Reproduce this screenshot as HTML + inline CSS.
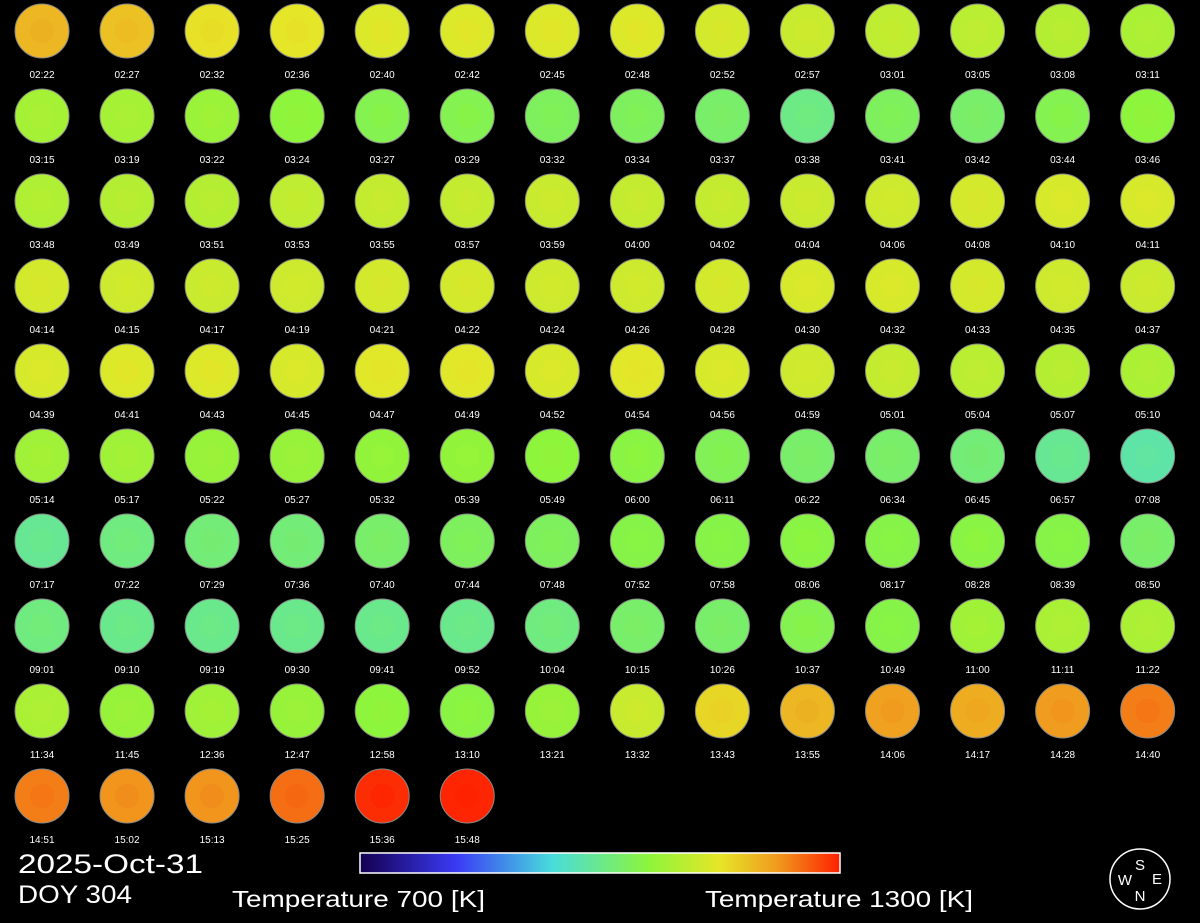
<!DOCTYPE html>
<html><head><meta charset="utf-8"><style>
html,body{margin:0;padding:0;background:#000;}
body{width:1200px;height:923px;overflow:hidden;position:relative;font-family:"Liberation Sans",sans-serif;color:#fff;}
svg{position:absolute;left:0;top:0;}
</style></head><body>
<svg id="chart" width="1200" height="923" viewBox="0 0 1200 923">
<defs>
<linearGradient id="cbar" x1="0" x2="1" y1="0" y2="0">
<stop offset="0" stop-color="#140050"/>
<stop offset="0.2" stop-color="#3a3af5"/>
<stop offset="0.4" stop-color="#48dcdc"/>
<stop offset="0.6" stop-color="#8cf53c"/>
<stop offset="0.75" stop-color="#e6e628"/>
<stop offset="0.87" stop-color="#f09a1e"/>
<stop offset="1" stop-color="#ff2000"/>
</linearGradient>
</defs>
<g id="grid"></g>
<rect x="360" y="853" width="480" height="20" fill="url(#cbar)" stroke="#fff" stroke-width="1.5"/>
<text x="18" y="873" font-size="27" fill="#fff" textLength="185" lengthAdjust="spacingAndGlyphs">2025-Oct-31</text>
<text x="18" y="903" font-size="25" fill="#fff" textLength="114" lengthAdjust="spacingAndGlyphs">DOY 304</text>
<text x="232" y="907" font-size="23" fill="#fff" textLength="253" lengthAdjust="spacingAndGlyphs">Temperature 700 [K]</text>
<text x="705" y="907" font-size="23" fill="#fff" textLength="268" lengthAdjust="spacingAndGlyphs">Temperature 1300 [K]</text>
<g>
<circle cx="1140" cy="879" r="30" fill="none" stroke="#fff" stroke-width="1.5"/>
<text x="1140" y="870" font-size="15" fill="#fff" text-anchor="middle">S</text>
<text x="1125" y="885" font-size="15" fill="#fff" text-anchor="middle">W</text>
<text x="1157" y="884" font-size="15" fill="#fff" text-anchor="middle">E</text>
<text x="1140" y="901" font-size="15" fill="#fff" text-anchor="middle">N</text>
</g>
</svg>
<script>
const times = ["02:22","02:27","02:32","02:36","02:40","02:42","02:45","02:48","02:52","02:57","03:01","03:05","03:08","03:11",
"03:15","03:19","03:22","03:24","03:27","03:29","03:32","03:34","03:37","03:38","03:41","03:42","03:44","03:46",
"03:48","03:49","03:51","03:53","03:55","03:57","03:59","04:00","04:02","04:04","04:06","04:08","04:10","04:11",
"04:14","04:15","04:17","04:19","04:21","04:22","04:24","04:26","04:28","04:30","04:32","04:33","04:35","04:37",
"04:39","04:41","04:43","04:45","04:47","04:49","04:52","04:54","04:56","04:59","05:01","05:04","05:07","05:10",
"05:14","05:17","05:22","05:27","05:32","05:39","05:49","06:00","06:11","06:22","06:34","06:45","06:57","07:08",
"07:17","07:22","07:29","07:36","07:40","07:44","07:48","07:52","07:58","08:06","08:17","08:28","08:39","08:50",
"09:01","09:10","09:19","09:30","09:41","09:52","10:04","10:15","10:26","10:37","10:49","11:00","11:11","11:22",
"11:34","11:45","12:36","12:47","12:58","13:10","13:21","13:32","13:43","13:55","14:06","14:17","14:28","14:40",
"14:51","15:02","15:13","15:25","15:36","15:48"];
// mean temperature (K) of each frame
const temps = [1195,1185,1155,1150,1140,1140,1140,1140,1130,1120,1110,1105,1100,1090,
1085,1085,1075,1060,1045,1045,1035,1035,1025,1005,1035,1025,1045,1060,
1095,1100,1100,1110,1115,1115,1120,1115,1115,1120,1125,1130,1135,1135,
1130,1125,1120,1125,1130,1130,1125,1125,1130,1135,1135,1130,1125,1120,
1135,1140,1140,1135,1145,1145,1135,1145,1135,1125,1115,1105,1100,1090,
1080,1080,1070,1070,1065,1065,1060,1055,1040,1025,1025,1015,995,980,
995,1010,1015,1015,1025,1035,1035,1050,1050,1055,1050,1055,1050,1025,
1010,1000,1000,1000,1000,1000,1010,1025,1025,1045,1050,1080,1090,1090,
1090,1070,1080,1070,1060,1055,1070,1120,1165,1195,1215,1205,1220,1240,
1240,1225,1225,1250,1292,1296];
const tMin = 700, tMax = 1300;
const stops = [[0,20,0,80],[0.2,58,58,245],[0.4,72,220,220],[0.6,140,245,60],[0.75,230,230,40],[0.87,240,154,30],[1,255,32,0]];
function cmap(t){
  let v=Math.max(0,Math.min(1,(t-tMin)/(tMax-tMin)));
  for(let i=1;i<stops.length;i++){
    if(v<=stops[i][0]){const a=stops[i-1],b=stops[i],f=(v-a[0])/(b[0]-a[0]);
      return `rgb(${Math.round(a[1]+f*(b[1]-a[1]))},${Math.round(a[2]+f*(b[2]-a[2]))},${Math.round(a[3]+f*(b[3]-a[3]))})`;}
  }
  return 'rgb(255,32,0)';
}
const ns="http://www.w3.org/2000/svg";
const g=document.getElementById('grid');
const cols=14, x0=42, dx=85.05, y0=31, dy=85, r=27;
function colX(c){return x0+c*dx;}
function rowY(rw){return y0+rw*dy;}
times.forEach((t,i)=>{
  const c=i%cols, rw=Math.floor(i/cols);
  const cx=colX(c), cy=rowY(rw);
  const circ=document.createElementNS(ns,'circle');
  
  
  circ.setAttribute('cx',cx);circ.setAttribute('cy',cy);circ.setAttribute('r',r);
  circ.setAttribute('fill',cmap(temps[i]));
  circ.setAttribute('stroke','#888');circ.setAttribute('stroke-width','1');
  g.appendChild(circ);
  const inner=document.createElementNS(ns,'circle');
  
  
  inner.setAttribute('cx',cx);inner.setAttribute('cy',cy);inner.setAttribute('r',r*0.45);
  inner.setAttribute('fill',cmap(temps[i]+8));
  inner.setAttribute('opacity','0.6');
  g.appendChild(inner);
  const tx=document.createElementNS(ns,'text');
  
  
  tx.setAttribute('x',cx);tx.setAttribute('y',cy+47);
  tx.setAttribute('font-size','10');tx.setAttribute('fill','#fff');tx.setAttribute('text-anchor','middle');
  tx.textContent=t;
  g.appendChild(tx);
});
</script>
</body></html>
